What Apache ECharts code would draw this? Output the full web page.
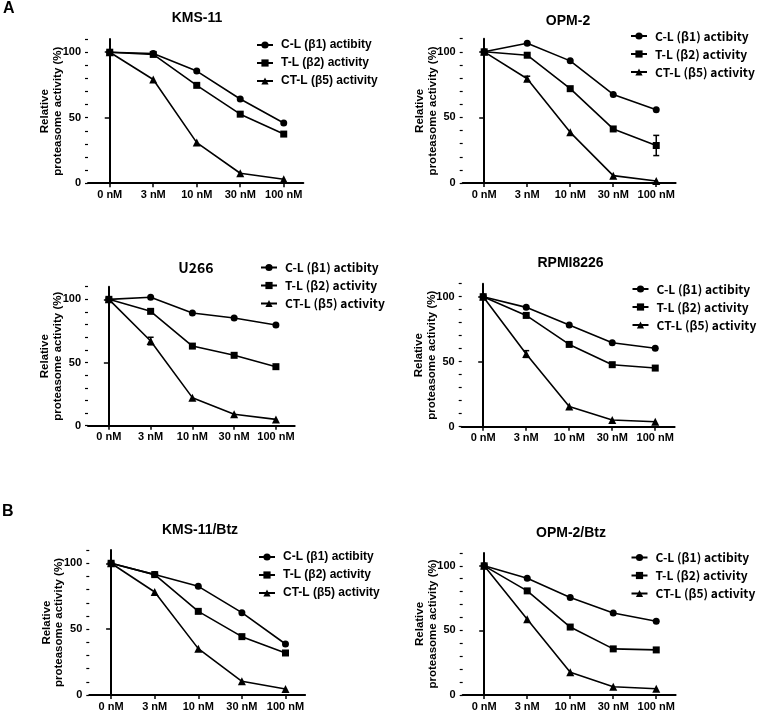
<!DOCTYPE html>
<html>
<head>
<meta charset="utf-8">
<script src="https://cdn.jsdelivr.net/npm/echarts@6/dist/echarts.min.js"></script>
<style>html,body{margin:0;padding:0;background:#fff;}#c{width:760px;height:712px;}</style>
</head>
<body>
<div id="c"></div>
<script>
// ---- data ----
const categories = ['0 nM', '3 nM', '10 nM', '30 nM', '100 nM'];
const seriesNames = ['C-L (β1) actibity', 'T-L (β2) activity', 'CT-L (β5) activity'];
const panelTitles = ['KMS-11', 'OPM-2', 'U266', 'RPMI8226', 'KMS-11/Btz', 'OPM-2/Btz'];
const yTickValues = [0, 50, 100];
const yAxisName = 'Relative\nproteasome activity (%)';

const kms11CL  = [100, 99.0, 85.6, 64.3, 46.0];
const kms11TL  = [100, 98.3, 74.7, 52.7, 37.5];
const kms11CTL = [100, 79.2, 31.0, 7.6, 3.0];
const kms11Err = [[1, 0, 1.5]];

const opm2CL  = [100, 106.6, 93.1, 67.5, 55.8];
const opm2TL  = [100, 97.4, 71.9, 41.2, 28.6];
const opm2CTL = [100, 79.5, 38.6, 5.6, 1.5];
const opm2Err = [[2, 1, 1.9], [1, 4, 7.7]];

const u266CL  = [100, 101.6, 89.2, 85.2, 79.7];
const u266TL  = [100, 90.5, 63.0, 55.7, 46.7];
const u266CTL = [100, 67.0, 22.2, 9.0, 5.0];
const u266Err = [[1, 0, 1.3], [2, 1, 3.0]];

const rpmiCL  = [100, 91.8, 78.2, 64.6, 60.3];
const rpmiTL  = [100, 85.6, 63.3, 47.7, 45.1];
const rpmiCTL = [100, 55.9, 15.6, 5.1, 3.8];
const rpmiErr = [[2, 1, 2.6]];

const kms11BtzCL  = [100, 91.4, 82.5, 62.5, 38.7];
const kms11BtzTL  = [100, 91.4, 63.5, 44.3, 31.9];
const kms11BtzCTL = [100, 78.2, 35.2, 10.4, 4.6];
const kms11BtzErr = [];

const opm2BtzCL  = [100, 90.3, 75.5, 63.5, 57.1];
const opm2BtzTL  = [100, 80.6, 52.6, 35.7, 34.9];
const opm2BtzCTL = [100, 58.7, 17.6, 6.4, 4.8];
const opm2BtzErr = [];

// ---- layout / styling ----
const ARIAL = '"Liberation Sans", Arial, sans-serif';
const JP = '"Noto Sans CJK JP", sans-serif';

const panels = [
  {vals: [kms11CL, kms11TL, kms11CTL], err: kms11Err, grid: {left: 88, top: 39.1, width: 215.3, height: 144.1},
   title: [197, 18, ARIAL], legend: {left: 256, top: 38, font: ARIAL}},
  {vals: [opm2CL, opm2TL, opm2CTL], err: opm2Err, grid: {left: 462.7, top: 38.7, width: 212.9, height: 144.3},
   title: [568, 21.5, ARIAL], legend: {left: 630, top: 29, font: JP}},
  {vals: [u266CL, u266TL, u266CTL], err: u266Err, grid: {left: 88, top: 286.7, width: 206.7, height: 139},
   title: [196, 267.5, JP], legend: {left: 260, top: 260.5, font: JP}},
  {vals: [rpmiCL, rpmiTL, rpmiCTL], err: rpmiErr, grid: {left: 461.7, top: 283.7, width: 212.9, height: 143},
   title: [570.5, 263.3, ARIAL], legend: {left: 631.5, top: 282, font: JP}},
  {vals: [kms11BtzCL, kms11BtzTL, kms11BtzCTL], err: kms11BtzErr, grid: {left: 89.3, top: 550.1, width: 215.8, height: 144.9},
   title: [200, 530, ARIAL], legend: {left: 258, top: 550, font: ARIAL}},
  {vals: [opm2BtzCL, opm2BtzTL, opm2BtzCTL], err: opm2BtzErr, grid: {left: 462.7, top: 552.9, width: 212.9, height: 143.8},
   title: [571, 533, ARIAL], legend: {left: 630.5, top: 550.5, font: JP}}
];
const symbols = ['circle', 'rect', 'triangle'];
const symbolSizes = [7, 7, 8];

const option = {
  animation: false,
  backgroundColor: '#fff',
  grid: [], xAxis: [], yAxis: [], series: [], legend: [],
  graphic: [
    {type: 'text', x: 3, y: 1, style: {text: 'A', font: 'bold 16px ' + ARIAL, fill: '#000'}},
    {type: 'text', x: 2, y: 504, style: {text: 'B', font: 'bold 16px ' + ARIAL, fill: '#000'}}
  ]
};

panels.forEach((p, i) => {
  option.grid.push(Object.assign({containLabel: false}, p.grid));
  option.xAxis.push({
    type: 'value', gridIndex: i, min: -0.5, max: 4.45,
    axisLine: {show: true, onZero: false, lineStyle: {color: '#000', width: 2}},
    axisTick: {show: true, customValues: [0, 1, 2, 3, 4], length: 4, lineStyle: {color: '#000', width: 1.5}},
    axisLabel: {customValues: [0, 1, 2, 3, 4], formatter: v => categories[Math.round(v)], color: '#000',
      fontFamily: ARIAL, fontWeight: 'bold', fontSize: 11, margin: 6},
    splitLine: {show: false}
  });
  option.yAxis.push({
    type: 'value', gridIndex: i, min: 0, max: 110, position: 'left',
    name: yAxisName, nameLocation: 'middle', nameGap: 24, nameRotate: 90, nameMoveOverlap: false,
    nameTextStyle: {fontFamily: ARIAL, fontWeight: 'bold', fontSize: 11.5, lineHeight: 12.5, color: '#000', align: 'center'},
    axisLine: {show: true, lineStyle: {color: '#000', width: 2}},
    axisTick: {show: true, customValues: yTickValues, length: 5, lineStyle: {color: '#000', width: 1.5}},
    axisLabel: {customValues: yTickValues, color: '#000', fontFamily: ARIAL, fontWeight: 'bold', fontSize: 11, margin: 7},
    splitLine: {show: false}
  });
  option.yAxis.push({
    type: 'value', gridIndex: i, min: 0, max: 110, interval: 10, position: 'left', offset: 0,
    axisLine: {show: false},
    axisTick: {show: true, length: 3, lineStyle: {color: '#000', width: 1.2}},
    axisLabel: {show: false},
    splitLine: {show: false}
  });
  p.vals.forEach((arr, s) => {
    option.series.push({
      type: 'line', name: seriesNames[s], xAxisIndex: i, yAxisIndex: 2 * i,
      data: arr.map((v, k) => [k, v]),
      symbol: symbols[s], symbolSize: symbolSizes[s],
      color: '#000',
      lineStyle: {color: '#000', width: 1.6},
      itemStyle: {color: '#000'},
      z: 3
    });
  });
  if (p.err.length) {
    option.series.push({
      type: 'custom', name: 'err' + i, xAxisIndex: i, yAxisIndex: 2 * i,
      data: p.err.map(e => [e[1], p.vals[e[0]][e[1]], e[2]]),
      renderItem: (params, api) => {
        const x = api.value(0), v = api.value(1), e = api.value(2);
        const t = api.coord([x, v + e]);
        const b = api.coord([x, v - e]);
        const w = 3;
        const st = {stroke: '#000', lineWidth: 1.5};
        return {type: 'group', children: [
          {type: 'line', shape: {x1: t[0], y1: t[1], x2: b[0], y2: b[1]}, style: st},
          {type: 'line', shape: {x1: t[0] - w, y1: t[1], x2: t[0] + w, y2: t[1]}, style: st},
          {type: 'line', shape: {x1: b[0] - w, y1: b[1], x2: b[0] + w, y2: b[1]}, style: st}
        ]};
      },
      z: 4
    });
  }
  option.legend.push({
    data: seriesNames, orient: 'vertical', left: p.legend.left, top: p.legend.top, padding: 0,
    itemWidth: 16, itemHeight: 9, itemGap: 4, selectedMode: false,
    textStyle: {fontFamily: p.legend.font, fontWeight: 'bold', fontSize: 12, lineHeight: 14, color: '#000', padding: [0, 0, 0, 3]}
  });
  option.graphic.push({
    type: 'text', x: p.title[0], y: p.title[1],
    style: {text: panelTitles[i], font: 'bold 14px ' + p.title[2], fill: '#000', align: 'center', verticalAlign: 'middle'}
  });
});

const chart = echarts.init(document.getElementById('c'), null, {renderer: 'canvas'});
chart.setOption(option);
</script>
</body>
</html>
